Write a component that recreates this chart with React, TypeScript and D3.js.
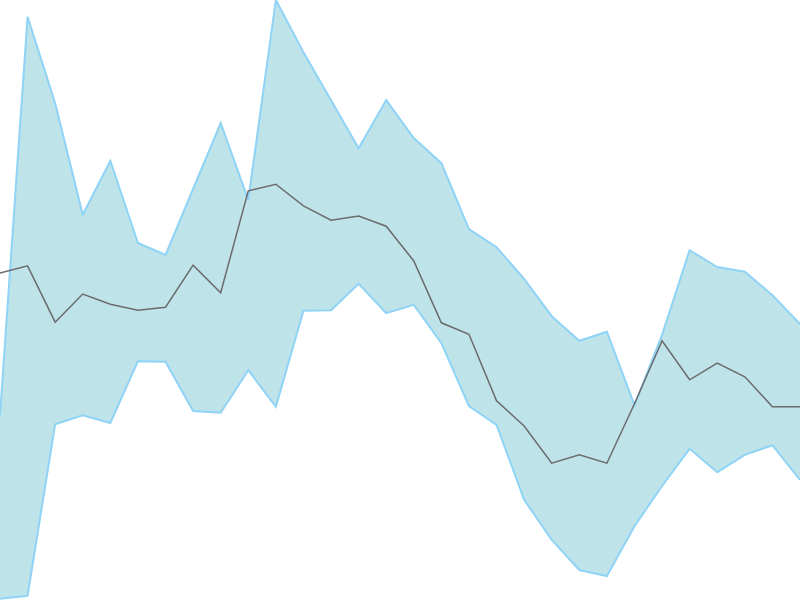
import React from "react";
import * as d3 from "d3";

// 30 evenly spaced samples, values on a 0..100 scale
const upper: number[] = [
  30.8, 97.2, 82.8, 64.2, 73.2, 59.5, 57.5, 68.5, 79.5, 66.7,
  100, 91.3, 83.3, 75.3, 83.3, 77, 72.8, 61.8, 58.8, 53.5,
  47.3, 43.2, 44.7, 32.5, 44.2, 58.3, 55.5, 54.7, 50.8, 46,
];

const middle: number[] = [
  54.5, 55.7, 46.3, 51, 49.3, 48.3, 48.8, 55.8, 51.2, 68.2,
  69.3, 65.7, 63.3, 64, 62.3, 56.5, 46.2, 44.3, 33.2, 29,
  22.8, 24.2, 22.8, 32.7, 43.2, 36.7, 39.5, 37.2, 32.2, 32.2,
];

const lower: number[] = [
  0.2, 0.7, 29.3, 30.8, 29.5, 39.8, 39.7, 31.5, 31.2, 38.3,
  32.2, 48.2, 48.3, 52.7, 47.8, 49.2, 42.8, 32.3, 29.2, 16.7,
  10, 5, 4, 12.3, 19, 25.2, 21.3, 24.2, 25.8, 20,
];

const width = 800;
const height = 600;

export default function App() {
  const x = d3.scaleLinear().domain([0, upper.length - 1]).range([0, width]);
  const y = d3.scaleLinear().domain([0, 100]).range([height, 0]);

  const idx = d3.range(upper.length);

  const band = d3
    .area<number>()
    .x((i) => x(i))
    .y0((i) => y(lower[i]))
    .y1((i) => y(upper[i]));

  const line = (vals: number[]) =>
    d3
      .line<number>()
      .x((i) => x(i))
      .y((i) => y(vals[i]))(idx) || "";

  return (
    <svg
      width={width}
      height={height}
      style={{ position: "fixed", left: 0, top: 0, background: "#fff" }}
    >
      <path d={band(idx) || ""} fill="#bee3e9" stroke="none" />
      <path d={line(upper)} fill="none" stroke="#8fd3f6" strokeWidth={2} />
      <path d={line(lower)} fill="none" stroke="#8fd3f6" strokeWidth={2} />
      <path d={line(middle)} fill="none" stroke="#6b6b6b" strokeWidth={1.5} />
    </svg>
  );
}
